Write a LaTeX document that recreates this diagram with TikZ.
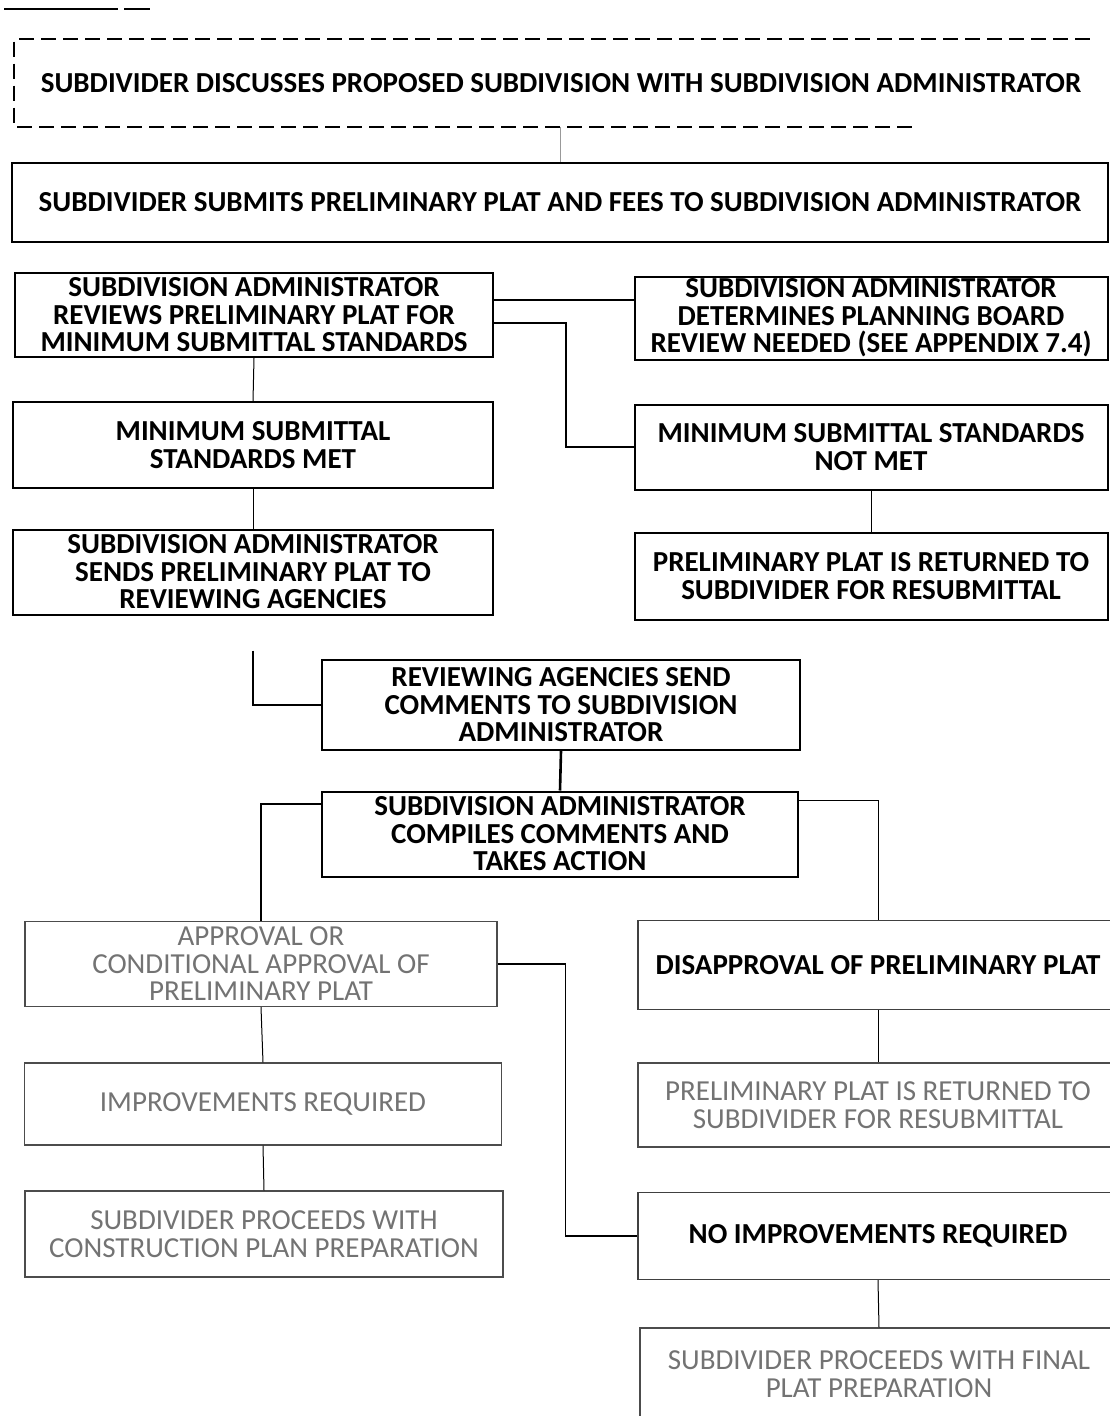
\documentclass[tikz,border=0pt]{standalone}
\usepackage{fontspec}
\setmainfont{Carlito}
\usetikzlibrary{positioning}

\begin{document}
\begin{tikzpicture}[x=1pt,y=-1pt,semithick,
  every node/.style={align=center,inner sep=0pt,
    font=\fontsize{29}{27.5}\selectfont\bfseries},
  bbox/.style={draw,line width=2pt},
  gbox/.style={draw=black!70,line width=1.3pt,text=black!55,
    font=\fontsize{29}{27.5}\selectfont},
  kbox/.style={draw=black!75,line width=1.3pt},
  link/.style={line width=2.6pt},
  wire/.style={line width=1pt}] %,font=\sffamily]
\useasboundingbox (0,0) rectangle (1110,1416);
\draw[line width=2pt] (4,9) -- (118,9) (124,9) -- (150,9);

\node[minimum width=1075pt,minimum height=87pt] (Discuss) at (552,83)
  {\hspace*{18pt}SUBDIVIDER DISCUSSES PROPOSED SUBDIVISION WITH SUBDIVISION ADMINISTRATOR};
\draw[line width=2.4pt,dash pattern=on 15pt off 7pt]
  (Discuss.north east) -- (Discuss.north west) -- (Discuss.south west) -- ++(900,0);

\node[bbox,minimum width=1096pt,minimum height=79pt] (Submit) at (560,202)
  {SUBDIVIDER SUBMITS PRELIMINARY PLAT AND FEES TO SUBDIVISION ADMINISTRATOR};
\node[bbox,minimum width=478pt,minimum height=84pt] (Reviews) at (254,315)
  {SUBDIVISION ADMINISTRATOR\\REVIEWS PRELIMINARY PLAT FOR\\MINIMUM SUBMITTAL STANDARDS};
\node[bbox,minimum width=473pt,minimum height=83pt] (Board) at (871,318)
  {SUBDIVISION ADMINISTRATOR\\DETERMINES PLANNING BOARD\\REVIEW NEEDED (SEE APPENDIX 7.4)};
\node[bbox,minimum width=480pt,minimum height=86pt] (Met) at (253,445)
  {MINIMUM SUBMITTAL\\STANDARDS MET};
\node[bbox,minimum width=473pt,minimum height=85pt] (NotMet) at (871,447)
  {MINIMUM SUBMITTAL STANDARDS\\NOT MET};
\node[bbox,minimum width=480pt,minimum height=85pt] (Sends) at (253,572)
  {SUBDIVISION ADMINISTRATOR\\SENDS PRELIMINARY PLAT TO\\REVIEWING AGENCIES};
\node[bbox,minimum width=473pt,minimum height=87pt] (Returned) at (871,576)
  {PRELIMINARY PLAT IS RETURNED TO\\SUBDIVIDER FOR RESUBMITTAL};
\node[bbox,minimum width=478pt,minimum height=90pt] (Agencies) at (561,705)
  {REVIEWING AGENCIES SEND\\COMMENTS TO SUBDIVISION\\ADMINISTRATOR};
\node[bbox,minimum width=476pt,minimum height=85pt] (Compiles) at (560,834)
  {SUBDIVISION ADMINISTRATOR\\COMPILES COMMENTS AND\\TAKES ACTION};

\node[gbox,minimum width=472pt,minimum height=85pt] (Approval) at (261,964)
  {APPROVAL OR\\CONDITIONAL APPROVAL OF\\PRELIMINARY PLAT};
\node[kbox,minimum width=480pt,minimum height=89pt] (Disapproval) at (878,965)
  {DISAPPROVAL OF PRELIMINARY PLAT};
\node[gbox,minimum width=477pt,minimum height=82pt] (ImpReq) at (263,1104)
  {IMPROVEMENTS REQUIRED};
\node[gbox,minimum width=480pt,minimum height=84pt] (Returned2) at (878,1105)
  {PRELIMINARY PLAT IS RETURNED TO\\SUBDIVIDER FOR RESUBMITTAL};
\node[gbox,minimum width=478pt,minimum height=86pt] (Construction) at (264,1234)
  {SUBDIVIDER PROCEEDS WITH\\CONSTRUCTION PLAN PREPARATION};
\node[kbox,minimum width=480pt,minimum height=87pt] (NoImp) at (878,1236)
  {NO IMPROVEMENTS REQUIRED};
\node[gbox,minimum width=478pt,minimum height=92pt] (Final) at (879,1374)
  {SUBDIVIDER PROCEEDS WITH FINAL\\PLAT PREPARATION};

\begin{scope}[wire]
\draw[black!40,line width=0.6pt] (Submit.north) -- (Submit.north |- Discuss.south);
\draw[link] ([yshift=15pt]Reviews.east) coordinate (r1) -- (r1 -| Board.west);
\draw[link] ([yshift=-8pt]Reviews.east) -- ++(72,0) |- (NotMet.west);
\draw (Reviews.south) -- (Met.north);
\draw (Met.south) -- (Sends.north);
\draw (NotMet.south) -- (Returned.north);
\draw[link,shorten <=35pt] (Sends.south) |- (Agencies.west);
\draw[link] (Agencies.south) -- (Compiles.north);
\draw[line width=1.6pt] ([yshift=30pt]Compiles.west) -| (Approval.north);
\draw ([yshift=34pt]Compiles.east) -| (Disapproval.north);
\draw[line width=1.6pt] (Approval.east) -- ++(68,0) |- (NoImp.west);
\draw (Approval.south) -- (ImpReq.north);
\draw (ImpReq.south) -- (Construction.north);
\draw (Disapproval.south) -- (Returned2.north);
\draw (NoImp.south) -- (Final.north);
\end{scope}
\end{tikzpicture}
\end{document}
